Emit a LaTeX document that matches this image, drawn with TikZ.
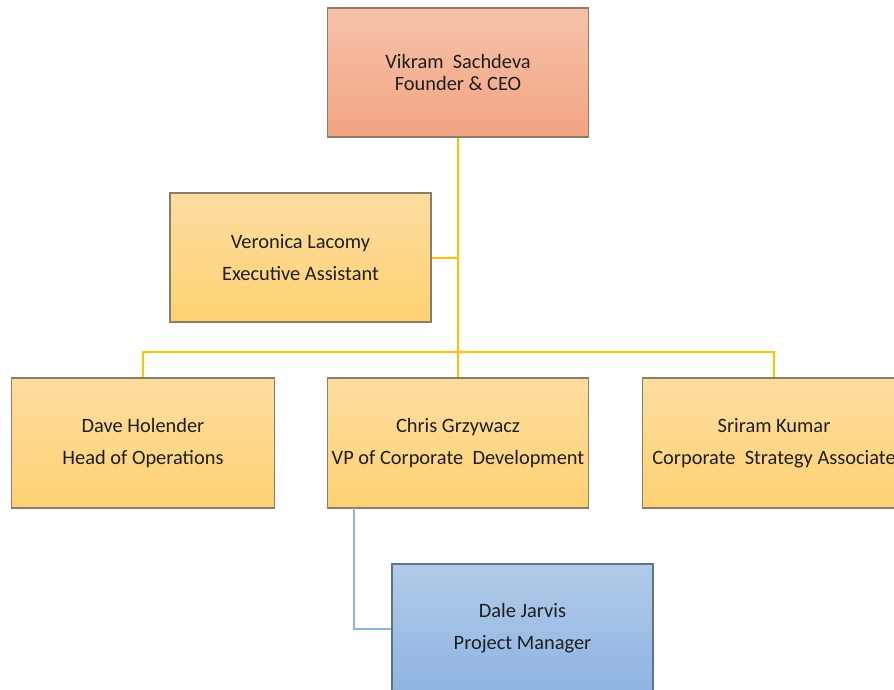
\documentclass[tikz,border=0pt]{standalone}
\usepackage{fontspec}
\setmainfont{Carlito}
\definecolor{ceoTop}{RGB}{247,194,170}
\definecolor{ceoBot}{RGB}{243,164,130}
\definecolor{yTop}{RGB}{253,221,160}
\definecolor{yBot}{RGB}{254,210,115}
\definecolor{bTop}{RGB}{178,203,233}
\definecolor{bBot}{RGB}{141,180,226}
\definecolor{edge}{RGB}{140,125,105}
\definecolor{bedge}{RGB}{95,115,140}
\definecolor{gold}{RGB}{255,192,0}
\definecolor{lblue}{RGB}{141,180,226}
\definecolor{txt}{RGB}{30,30,30}
\begin{document}
\begin{tikzpicture}[x=0.75pt,y=-0.75pt,
  card/.style={draw=edge, line width=0.8pt, rectangle, inner sep=0pt,
    minimum width=195.75pt, minimum height=96.75pt, align=center,
    text=txt, font=\fontsize{15.3}{24}\selectfont},
  warm/.style={card, top color=yTop, bottom color=yBot},
  head/.style={card, top color=ceoTop, bottom color=ceoBot, font=\fontsize{15.3}{16.5}\selectfont},
  cool/.style={card, draw=bedge, top color=bTop, bottom color=bBot},
  link/.style={draw=gold, line width=1.5pt},
  sublink/.style={draw=lblue, line width=1.5pt}]
\useasboundingbox (0,0) rectangle (894,690);
\clip (0,0) rectangle (894,690);
\fill[white] (0,0) rectangle (894,690);
\coordinate (bus) at (458,352);
\coordinate (tap) at (354,508);
\node[head] (ceo) at (458,72.5) {Vikram\ \ Sachdeva\\Founder \& CEO};
\node[warm] (ea) at (300.5,257.5) {Veronica Lacomy\\Executive Assistant};
\node[warm, minimum width=197.25pt, minimum height=97.5pt] (dave) at (143,443) {Dave Holender\\Head of Operations};
\node[warm, minimum height=97.5pt] (chris) at (458,443) {Chris Grzywacz\\VP of Corporate\ \ Development};
\node[warm, minimum width=197.25pt, minimum height=97.5pt] (sri) at (774,443) {Sriram Kumar\\Corporate\ \ Strategy Associate};
\node[cool] (dale) at (522.5,628.5) {Dale Jarvis\\Project Manager};
\draw[link] (ceo.south) -- (chris.north);
\draw[link] (ea.east) -- (ea.east -| ceo.south);
\draw[link] (dave.north) |- (bus) -| (sri.north);
\draw[sublink] (tap) |- (dale.west);
\end{tikzpicture}
\end{document}
